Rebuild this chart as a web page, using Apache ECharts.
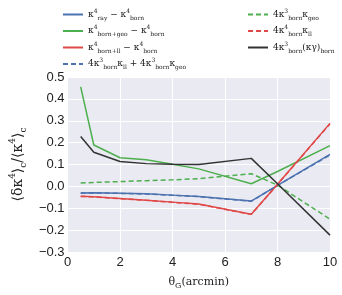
<!DOCTYPE html>
<html><head><meta charset="utf-8">
<script src="https://cdn.jsdelivr.net/npm/echarts@6/dist/echarts.min.js"></script>
<style>html,body{margin:0;padding:0;background:#fff}#c{width:342px;height:295px}</style>
</head><body><div id="c"></div>
<script>
const thetaG = [0.5, 1, 2, 3, 4, 5, 7, 8, 10];
const rayMinusBorn = [-0.030, -0.029, -0.031, -0.034, -0.040, -0.046, -0.067, 0.005, 0.146];
const bornGeoMinusBorn = [0.455, 0.189, 0.131, 0.122, 0.101, 0.080, 0.012, 0.068, 0.186];
const bornLlMinusBorn = [-0.045, -0.047, -0.055, -0.063, -0.072, -0.081, -0.127, 0.010, 0.288];
const llPlusGeo = [-0.031, -0.030, -0.032, -0.035, -0.041, -0.047, -0.068, 0.004, 0.144];
const geoTerm = [0.015, 0.018, 0.022, 0.026, 0.030, 0.035, 0.058, 0.006, -0.150];
const llTerm = [-0.046, -0.048, -0.056, -0.064, -0.073, -0.082, -0.128, 0.009, 0.286];
const kgTerm = [0.228, 0.156, 0.114, 0.104, 0.101, 0.100, 0.128, 0.012, -0.223];
const yTicks = [-0.3, -0.2, -0.1, 0.0, 0.1, 0.2, 0.3, 0.4, 0.5];
const xTicks = [0, 2, 4, 6, 8, 10];

const labels = {
  a: 'κ{sup|4}{sub|ray} − κ{sup|4}{sub|born}',
  b: 'κ{sup|4}{sub|born+geo} − κ{sup|4}{sub|born}',
  c: 'κ{sup|4}{sub|born+ll} − κ{sup|4}{sub|born}',
  d: '4κ{sup|3}{sub|born}κ{sub|ll} + 4κ{sup|3}{sub|born}κ{sub|geo}',
  e: '4κ{sup|3}{sub|born}κ{sub|geo}',
  f: '4κ{sup|4}{sub|born}κ{sub|ll}',
  g: '4κ{sup|3}{sub|born}(κγ){sub|born}'
};
const rich = {
  sup: {fontSize: 6, verticalAlign: 'top', lineHeight: 13, fontFamily: 'DejaVu Serif', color: '#222'},
  sub: {fontSize: 6, verticalAlign: 'bottom', lineHeight: 13, fontFamily: 'DejaVu Serif', color: '#222'}
};
const BLUE = '#4C72B0', GREEN = '#4DAF4D', RED = '#E04848', BLACK = '#333333';
function mk(name, data, color, type) {
  return {
    name, type: 'line', symbol: 'none', smooth: false,
    data: thetaG.map((x, i) => [x, data[i]]),
    lineStyle: {color, width: 1.5, type},
    itemStyle: {color}
  };
}
const legendCommon = {
  orient: 'vertical', itemWidth: 20, itemHeight: 12, itemGap: 3.5,
  itemStyle: {opacity: 0},
  formatter: n => labels[n],
  textStyle: {fontFamily: 'DejaVu Serif', fontSize: 9, color: '#222', lineHeight: 13, rich}
};
const chart = echarts.init(document.getElementById('c'));
chart.setOption({
  animation: false,
  backgroundColor: '#fff',
  legend: [
    Object.assign({left: 57, top: 3, data: ['a', 'b', 'c', 'd']}, legendCommon),
    Object.assign({left: 242, top: 3, data: ['e', 'f', 'g']}, legendCommon)
  ],
  grid: {left: 55, right: 12, top: 77, bottom: 40, show: true, backgroundColor: '#EAEAF2', borderWidth: 0},
  xAxis: {
    type: 'value', min: 0, max: 10, interval: 2,
    axisLine: {show: false}, axisTick: {show: false},
    splitLine: {show: true, lineStyle: {color: '#fff', width: 1}},
    axisLabel: {fontFamily: 'Liberation Sans', fontSize: 13, color: '#222', margin: 4},
    name: 'θ{sub|G}(arcmin)', nameLocation: 'middle', nameGap: 22,
    nameTextStyle: {fontFamily: 'DejaVu Serif', fontSize: 11, color: '#222',
      rich: {sub: {fontSize: 8, verticalAlign: 'bottom', lineHeight: 16, fontFamily: 'DejaVu Serif'}}}
  },
  yAxis: {
    type: 'value', min: -0.3, max: 0.5, interval: 0.1,
    axisLine: {show: false}, axisTick: {show: false},
    splitLine: {show: true, lineStyle: {color: '#fff', width: 1}},
    axisLabel: {fontFamily: 'Liberation Sans', fontSize: 13, color: '#222', margin: 3,
      formatter: v => { const t = yTicks.find(k => Math.abs(k - v) < 1e-9); return (t < 0 ? '−' + Math.abs(t).toFixed(1) : t.toFixed(1)); }},
    name: '⟨δκ{sup|4}⟩{sub|c}/⟨κ{sup|4}⟩{sub|c}', nameLocation: 'middle', nameGap: 36, nameRotate: 90,
    nameTextStyle: {fontFamily: 'DejaVu Serif', fontSize: 14, color: '#222', lineHeight: 20,
      rich: {sup: {fontSize: 9, verticalAlign: 'top', lineHeight: 20, fontFamily: 'DejaVu Serif'},
             sub: {fontSize: 9, verticalAlign: 'bottom', lineHeight: 20, fontFamily: 'DejaVu Serif'}}}
  },
  series: [
    mk('a', rayMinusBorn, BLUE, 'solid'),
    mk('b', bornGeoMinusBorn, GREEN, 'solid'),
    mk('c', bornLlMinusBorn, RED, 'solid'),
    mk('d', llPlusGeo, BLUE, [5, 3]),
    mk('e', geoTerm, GREEN, [5, 3]),
    mk('f', llTerm, RED, [5, 3]),
    mk('g', kgTerm, BLACK, 'solid')
  ]
});
</script></body></html>
